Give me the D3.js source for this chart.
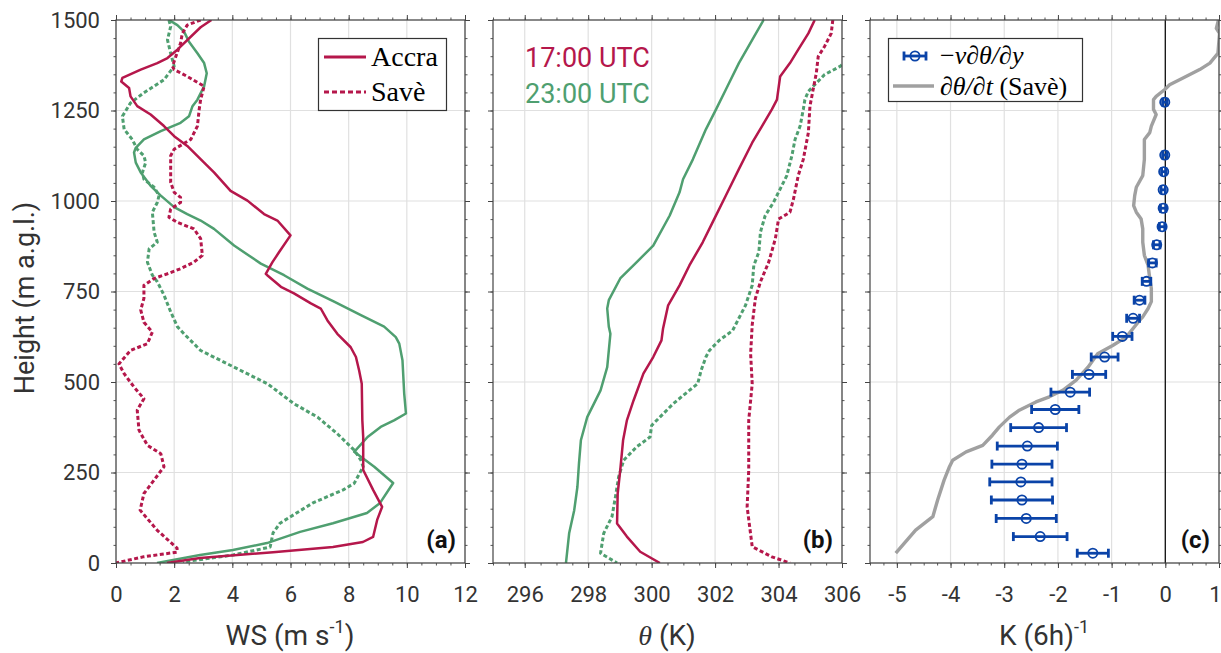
<!DOCTYPE html>
<html>
<head>
<meta charset="utf-8">
<script src="https://cdn.jsdelivr.net/npm/d3@7"></script>
<style>
  body { margin: 0; background: #fff; }
</style>
</head>
<body>
<svg id="fig"></svg>
<script>
// ---- data: [height (m), value] ----
// (a) wind speed, m/s
const wsAccra17 = [[1500,3.28],[1480,2.91],[1418,2.11],[1395,1.77],[1381,1.42],[1363,0.85],[1340,0.22],[1330,0.18],[1312,0.45],[1289,0.5],[1262,0.73],[1239,1.19],[1207,1.65],[1179,2.0],[1152,2.45],[1106,3.03],[1079,3.37],[1028,3.94],[1001,4.52],[964,5.09],[946,5.55],[905,6.0],[859,5.61],[831,5.38],[799,5.15],[795,5.2],[763,5.67],[745,6.12],[717,6.7],[703,7.04],[670,7.27],[633,7.61],[596,8.07],[569,8.25],[532,8.36],[495,8.45],[394,8.47],[348,8.5],[257,8.5],[202,8.84],[155,9.15],[119,8.98],[72,8.84],[58,8.49],[44,7.46],[30,5.4],[14,2.89],[0,1.75]];
const wsSave17 = [[1500,2.91],[1486,2.45],[1463,2.28],[1436,2.22],[1372,1.94],[1363,2.0],[1344,2.45],[1317,3.03],[1280,2.91],[1253,2.86],[1207,2.8],[1170,2.57],[1143,2.0],[1125,1.88],[1051,1.88],[1024,2.0],[1010,2.22],[996,2.22],[978,1.88],[955,1.82],[941,2.11],[923,2.68],[896,2.91],[850,2.97],[831,2.68],[813,2.22],[799,1.77],[786,1.31],[767,0.96],[731,0.96],[699,0.85],[665,0.96],[638,1.25],[606,1.08],[587,0.5],[550,0.1],[523,0.28],[486,0.62],[454,0.96],[422,0.73],[367,0.79],[325,1.08],[302,1.54],[266,1.65],[229,1.31],[192,0.96],[146,0.83],[91,1.41],[41,2.1],[30,2.1],[17,0.93],[0,0]];
const wsAccra23 = [[1500,1.82],[1486,2.11],[1468,2.34],[1440,2.51],[1408,2.8],[1381,3.03],[1353,3.12],[1317,3.03],[1280,2.8],[1262,2.63],[1234,2.51],[1216,2.22],[1193,1.54],[1170,0.96],[1147,0.68],[1134,0.62],[1106,0.68],[1079,0.85],[1042,1.19],[1015,1.54],[983,2.0],[964,2.45],[946,2.91],[923,3.37],[877,4.06],[827,4.98],[795,5.78],[758,6.58],[722,7.5],[685,8.42],[653,9.22],[624,9.62],[606,9.74],[560,9.85],[468,9.91],[413,9.97],[394,9.56],[376,9.1],[348,8.65],[307,8.19],[266,8.88],[221,9.53],[166,9.08],[138,8.63],[110,7.46],[86,6.33],[55,5.19],[36,4.02],[22,2.89],[0,1.41]];
const wsSave23 = [[1500,1.82],[1482,1.88],[1445,1.77],[1408,1.88],[1372,2.0],[1335,1.65],[1299,0.96],[1271,0.5],[1234,0.22],[1198,0.28],[1170,0.56],[1143,0.73],[1125,0.96],[1106,1.02],[1079,0.91],[1060,0.96],[1038,1.31],[1015,1.48],[996,1.42],[969,1.25],[914,1.31],[886,1.42],[868,1.14],[831,1.08],[795,1.25],[777,1.42],[740,1.65],[694,1.88],[653,2.11],[633,2.34],[587,2.91],[541,4.06],[495,5.21],[440,6.12],[403,6.93],[357,7.61],[312,8.19],[284,8.42],[266,8.5],[220,8.19],[202,7.81],[166,6.77],[110,5.64],[83,5.4],[44,5.3],[22,4.02],[3,2.3]];

// (b) potential temperature, K
const thAccra17 = [[1500,305.14],[1463,304.94],[1418,304.62],[1381,304.36],[1344,304.05],[1280,303.95],[1253,303.79],[1207,303.48],[1161,303.17],[1088,302.75],[1015,302.34],[941,301.92],[886,301.61],[822,301.19],[767,300.88],[712,300.52],[648,300.36],[615,300.31],[569,300.05],[523,299.74],[449,299.43],[394,299.22],[339,299.1],[256,299.01],[192,298.93],[109,298.91],[73,299.22],[31,299.64],[0,300.26]];
const thSave17 = [[1500,305.71],[1463,305.66],[1427,305.45],[1399,305.25],[1353,305.19],[1308,305.09],[1262,304.99],[1189,304.94],[1115,304.78],[1070,304.62],[1005,304.47],[969,304.36],[950,304.0],[896,303.9],[831,303.69],[777,303.43],[731,303.27],[658,303.17],[578,303.12],[495,303.17],[394,303.06],[256,303.06],[155,303.01],[45,303.17],[17,303.79],[0,304.36]];
const thAccra23 = [[1500,303.53],[1445,303.17],[1381,302.75],[1308,302.34],[1253,302.03],[1198,301.71],[1115,301.3],[1060,300.99],[1024,300.88],[960,300.57],[877,300.05],[831,299.53],[786,299.01],[726,298.65],[703,298.6],[653,298.65],[633,298.7],[541,298.6],[477,298.39],[403,297.97],[339,297.77],[275,297.71],[210,297.66],[146,297.56],[82,297.4],[0,297.3]];
const thSave23 = [[1400,306.3],[1372,305.94],[1349,305.45],[1321,305.14],[1303,304.94],[1280,304.83],[1253,304.78],[1207,304.68],[1170,304.52],[1125,304.42],[1070,304.26],[1033,304.05],[996,303.84],[960,303.58],[914,303.43],[859,303.38],[822,303.22],[767,303.17],[712,302.96],[676,302.75],[642,302.55],[615,302.13],[587,301.82],[569,301.71],[532,301.56],[495,301.45],[477,301.19],[440,300.68],[403,300.26],[380,300.0],[348,299.95],[321,299.53],[284,299.12],[238,298.96],[183,298.86],[128,298.75],[82,298.49],[27,298.39],[0,298.91]];

// (c) heating rates, K per 6 h
const dthdtSave = [[1500,0.99],[1477,0.95],[1463,1.01],[1408,0.98],[1381,0.83],[1363,0.64],[1340,0.33],[1321,0.08],[1308,-0.01],[1289,-0.17],[1280,-0.22],[1253,-0.22],[1239,-0.17],[1207,-0.26],[1189,-0.29],[1170,-0.39],[1115,-0.39],[1070,-0.42],[1038,-0.54],[1015,-0.57],[987,-0.59],[969,-0.54],[950,-0.45],[923,-0.42],[886,-0.42],[850,-0.39],[822,-0.32],[786,-0.29],[758,-0.26],[722,-0.26],[703,-0.32],[680,-0.42],[670,-0.48],[624,-0.73],[601,-0.98],[578,-1.26],[541,-1.44],[505,-1.66],[477,-1.91],[459,-2.16],[445,-2.41],[422,-2.72],[403,-2.9],[376,-3.09],[353,-3.22],[325,-3.4],[307,-3.71],[284,-3.96],[266,-4.02],[229,-4.12],[174,-4.24],[128,-4.33],[91,-4.65],[27,-5.02]];
const advHeight = [27,73,123,174,224,273,323,374,424,472,521,569,626,676,726,778,829,879,929,980,1031,1081,1127,1273];
const advValue  = [-1.35,-2.33,-2.59,-2.67,-2.69,-2.67,-2.57,-2.36,-2.05,-1.77,-1.42,-1.13,-0.8,-0.6,-0.48,-0.35,-0.24,-0.16,-0.06,-0.04,-0.04,-0.03,-0.01,-0.01];
const advError  = [0.29,0.5,0.56,0.57,0.58,0.56,0.56,0.52,0.44,0.36,0.31,0.25,0.18,0.12,0.1,0.08,0.07,0.06,0.05,0.05,0.04,0.04,0.04,0.04];

const heightTicks = [0,250,500,750,1000,1250,1500];
const wsTicks = [0,2,4,6,8,10,12];
const thTicks = [296,298,300,302,304,306];
const kTicks = [-5,-4,-3,-2,-1,0,1];

// ---- layout ----
const red = "#b5174b", green = "#4f9f70", blue = "#0a43a8", gray = "#a0a0a0";
const sans = "Roboto, sans-serif", serif = "'Liberation Serif', serif";
const W = 1221, H = 653;
const plotTop = 20, plotBottom = 563, pw = 349;

const svg = d3.select("#fig").attr("width", W).attr("height", H)
  .style("font-family", sans);

const y = d3.scaleLinear().domain([0, 1500]).range([plotBottom, plotTop]);
const yMinor = d3.range(0, 1501, 50);

function makePanel(id, left, xdom, xticks, xminorStep, showY) {
  const x = d3.scaleLinear().domain(xdom).range([left, left + pw]);
  const g = svg.append("g");
  const xMinor = d3.range(xdom[0], xdom[1] + 1e-9, xminorStep);

  // grid
  g.selectAll(null).data(xticks).enter().append("line")
    .attr("x1", d => x(d)).attr("x2", d => x(d))
    .attr("y1", plotTop).attr("y2", plotBottom)
    .attr("stroke", "#e0e0e0").attr("stroke-width", 1.2);
  g.selectAll(null).data(heightTicks).enter().append("line")
    .attr("x1", left).attr("x2", left + pw)
    .attr("y1", d => y(d)).attr("y2", d => y(d))
    .attr("stroke", "#e0e0e0").attr("stroke-width", 1.2);

  // axes (major + minor, all four sides, ticks outward)
  const axes = [
    [d3.axisBottom(x), `translate(0,${plotBottom})`, xticks, xMinor, true],
    [d3.axisTop(x), `translate(0,${plotTop})`, xticks, xMinor, false],
    [d3.axisLeft(y), `translate(${left},0)`, heightTicks, yMinor, showY],
    [d3.axisRight(y), `translate(${left + pw},0)`, heightTicks, yMinor, false]
  ];
  axes.forEach(([ax, tr, major, minor, labels], i) => {
    g.append("g").attr("transform", tr)
      .call(ax.tickValues(minor).tickSize(2.5).tickFormat(""))
      .call(s => s.select(".domain").remove())
      .selectAll("line").attr("stroke", "#555");
    const a = g.append("g").attr("transform", tr)
      .call(ax.tickValues(major).tickSize(5)
        .tickPadding(i === 0 ? 18 : 11)
        .tickFormat(labels ? (d => String(d)) : ""));
    a.select(".domain").remove();
    a.selectAll("line").attr("stroke", "#444");
    a.selectAll("text").attr("font-size", 22).attr("fill", "#333")
      .attr("font-family", sans);
  });

  g.append("clipPath").attr("id", "clip-" + id)
    .append("rect").attr("x", left).attr("y", plotTop)
    .attr("width", pw).attr("height", plotBottom - plotTop);
  const plot = g.append("g").attr("clip-path", `url(#clip-${id})`);

  // box
  svg.append("rect").attr("x", left).attr("y", plotTop)
    .attr("width", pw).attr("height", plotBottom - plotTop)
    .attr("fill", "none").attr("stroke", "#444").attr("stroke-width", 1.2);

  svg.append("text").attr("x", left + pw - 9).attr("y", 548)
    .attr("text-anchor", "end").attr("font-size", 24).attr("font-weight", "bold")
    .attr("font-family", sans).attr("fill", "#111").text(`(${id})`);

  return { x, plot, left, g };
}

function profile(p, data, color, dashed, width) {
  const line = d3.line().x(d => p.x(d[1])).y(d => y(d[0]));
  p.plot.append("path").datum(data)
    .attr("d", line).attr("fill", "none")
    .attr("stroke", color)
    .attr("stroke-width", width || (dashed ? 3 : 2.5))
    .attr("stroke-dasharray", dashed ? "4,2.5" : null)
    .attr("stroke-linejoin", "round");
}

// ---- panel (a) ----
const pa = makePanel("a", 116, [0, 12], wsTicks, 0.5, true);
profile(pa, wsAccra23, green, false);
profile(pa, wsSave23, green, true);
profile(pa, wsAccra17, red, false);
profile(pa, wsSave17, red, true);

// legend (a)
const la = svg.append("g");
la.append("rect").attr("x", 318.5).attr("y", 38.5).attr("width", 128).attr("height", 72)
  .attr("fill", "#fff").attr("stroke", "#333").attr("stroke-width", 1.2);
la.append("line").attr("x1", 324).attr("x2", 366).attr("y1", 57).attr("y2", 57)
  .attr("stroke", red).attr("stroke-width", 3.2);
la.append("line").attr("x1", 324).attr("x2", 366).attr("y1", 92).attr("y2", 92)
  .attr("stroke", red).attr("stroke-width", 3.2).attr("stroke-dasharray", "5,3");
la.append("text").attr("x", 371).attr("y", 66).style("font-family", serif)
  .attr("font-size", 28).text("Accra");
la.append("text").attr("x", 371).attr("y", 101).style("font-family", serif)
  .attr("font-size", 28).text("Savè");

// y label
svg.append("text").attr("transform", "rotate(-90)")
  .attr("x", -298).attr("y", 34).attr("text-anchor", "middle")
  .attr("font-size", 27).attr("font-family", sans).attr("fill", "#333")
  .text("Height (m a.g.l.)");

// x label (a)
const xla = svg.append("text").attr("x", 290).attr("y", 645).attr("text-anchor", "middle")
  .attr("font-size", 28).attr("font-family", sans).attr("fill", "#333");
xla.append("tspan").text("WS (m s");
xla.append("tspan").attr("dy", -12).attr("font-size", 18).text("-1");
xla.append("tspan").attr("dy", 12).text(")");

// ---- panel (b) ----
const pb = makePanel("b", 493, [295, 306], thTicks, 0.5, false);
profile(pb, thAccra23, green, false);
profile(pb, thSave23, green, true);
profile(pb, thAccra17, red, false);
profile(pb, thSave17, red, true);

svg.append("text").attr("x", 525).attr("y", 67).attr("font-size", 27)
  .attr("font-family", sans).attr("fill", red).text("17:00 UTC");
svg.append("text").attr("x", 525).attr("y", 103).attr("font-size", 27)
  .attr("font-family", sans).attr("fill", green).text("23:00 UTC");

const xlb = svg.append("text").attr("x", 667).attr("y", 645).attr("text-anchor", "middle")
  .attr("font-size", 28).attr("font-family", sans).attr("fill", "#333");
xlb.append("tspan").style("font-family", serif).attr("font-style", "italic").text("θ");
xlb.append("tspan").text(" (K)");

// ---- panel (c) ----
const pc = makePanel("c", 870, [-5.5, 1], kTicks, 0.25, false);
// keep the "1" label at the right edge inside the page
pc.g.selectAll(".tick text").filter(d => d === 1)
  .attr("text-anchor", "end").attr("dx", 2);
pc.plot.append("line").attr("x1", pc.x(0)).attr("x2", pc.x(0))
  .attr("y1", plotTop).attr("y2", plotBottom)
  .attr("stroke", "#111").attr("stroke-width", 1.3);
profile(pc, dthdtSave, gray, false, 3.4);

const adv = advHeight.map((h, i) => ({ h, v: advValue[i], e: advError[i] }));
const eb = pc.plot.selectAll(".eb").data(adv).enter().append("g")
  .attr("stroke", blue).attr("fill", "none");
eb.append("line").attr("x1", d => pc.x(d.v - d.e)).attr("x2", d => pc.x(d.v + d.e))
  .attr("y1", d => y(d.h)).attr("y2", d => y(d.h)).attr("stroke-width", 2.8);
eb.append("line").attr("x1", d => pc.x(d.v - d.e)).attr("x2", d => pc.x(d.v - d.e))
  .attr("y1", d => y(d.h) - 4.5).attr("y2", d => y(d.h) + 4.5).attr("stroke-width", 2.8);
eb.append("line").attr("x1", d => pc.x(d.v + d.e)).attr("x2", d => pc.x(d.v + d.e))
  .attr("y1", d => y(d.h) - 4.5).attr("y2", d => y(d.h) + 4.5).attr("stroke-width", 2.8);
eb.append("circle").attr("cx", d => pc.x(d.v)).attr("cy", d => y(d.h)).attr("r", 4.6)
  .attr("stroke-width", 1.8);

// legend (c)
const lc = svg.append("g");
lc.append("rect").attr("x", 888.5).attr("y", 38.5).attr("width", 194).attr("height", 63)
  .attr("fill", "#fff").attr("stroke", "#333").attr("stroke-width", 1.2);
const li = lc.append("g").attr("stroke", blue).attr("fill", "none").attr("stroke-width", 2.8);
li.append("line").attr("x1", 904).attr("x2", 926).attr("y1", 56).attr("y2", 56);
li.append("line").attr("x1", 904).attr("x2", 904).attr("y1", 51.5).attr("y2", 60.5);
li.append("line").attr("x1", 926).attr("x2", 926).attr("y1", 51.5).attr("y2", 60.5);
li.append("circle").attr("cx", 915).attr("cy", 56).attr("r", 4.6).attr("stroke-width", 1.8);
lc.append("line").attr("x1", 893).attr("x2", 934).attr("y1", 86).attr("y2", 86)
  .attr("stroke", gray).attr("stroke-width", 3.6);
const t1 = lc.append("text").attr("x", 940).attr("y", 64).attr("font-size", 26)
  .style("font-family", serif);
t1.append("tspan").text("−");
t1.append("tspan").attr("font-style", "italic").text("v∂θ/∂y");
const t2 = lc.append("text").attr("x", 940).attr("y", 95).attr("font-size", 26)
  .style("font-family", serif);
t2.append("tspan").attr("font-style", "italic").text("∂θ/∂t");
t2.append("tspan").text(" (Savè)");

const xlc = svg.append("text").attr("x", 1044).attr("y", 645).attr("text-anchor", "middle")
  .attr("font-size", 28).attr("font-family", sans).attr("fill", "#333");
xlc.append("tspan").text("K (6h)");
xlc.append("tspan").attr("dy", -12).attr("font-size", 18).text("-1");
</script>
</body>
</html>
